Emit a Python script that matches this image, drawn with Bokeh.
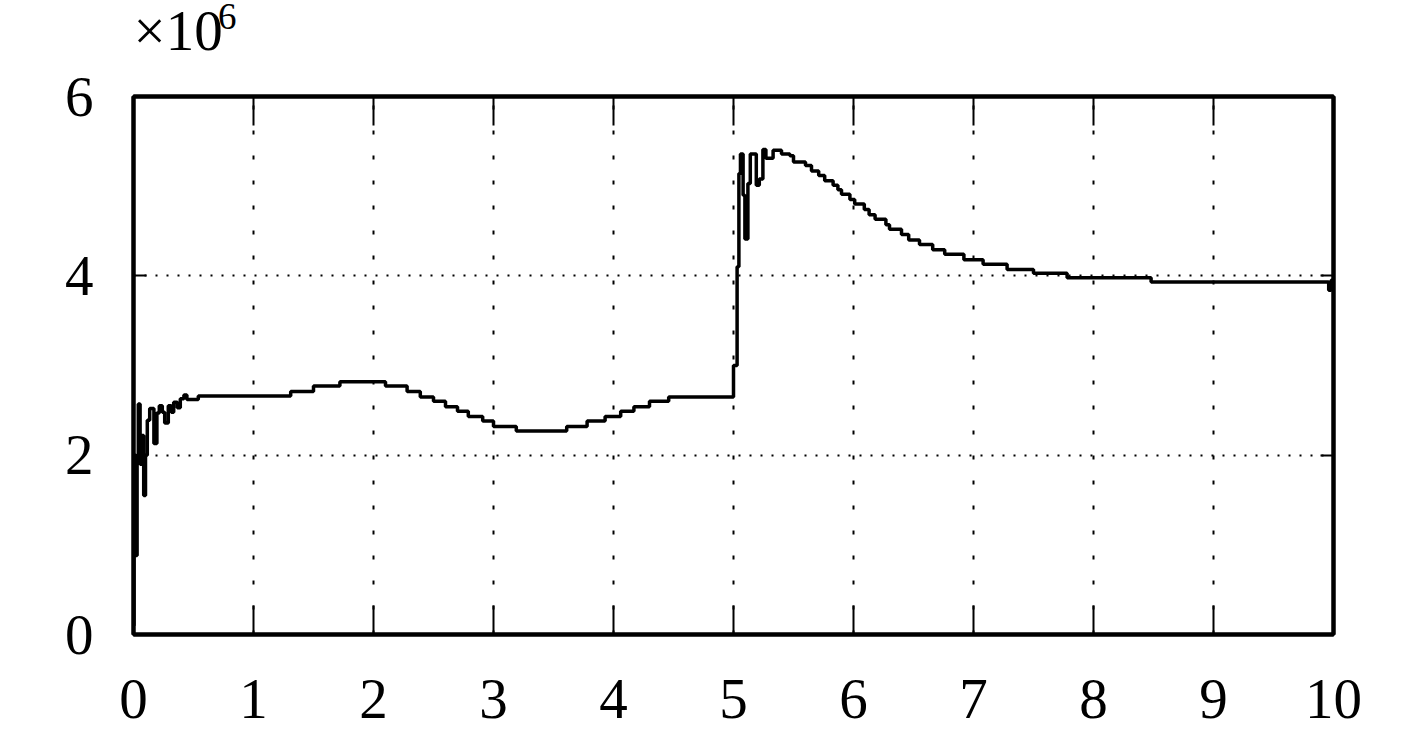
from bokeh.plotting import figure
from bokeh.layouts import column
from bokeh.models import Range1d, LinearAxis, FixedTicker, CustomLabelingPolicy
from bokeh.core.properties import value
from bokeh.embed import file_html
from bokeh.resources import INLINE

# ---- data (values in units of 10^6) ----
time_s = [
    0.000, 0.004, 0.020, 0.030, 0.040, 0.055, 0.070, 0.085, 0.100, 0.115,
    0.135, 0.170, 0.195, 0.215, 0.240, 0.260, 0.290, 0.315, 0.335, 0.365,
    0.390, 0.420, 0.445, 0.540, 1.310, 1.500, 1.720, 2.100, 2.280, 2.390,
    2.500, 2.600, 2.700, 2.790, 2.910, 3.000, 3.190, 3.610, 3.780, 3.930,
    4.060, 4.170, 4.300, 4.460, 5.000, 5.030, 5.045, 5.058, 5.080, 5.095,
    5.120, 5.140, 5.190, 5.215, 5.245, 5.270, 5.330, 5.400, 5.470, 5.500,
    5.600, 5.650, 5.710, 5.760, 5.830, 5.870, 5.900, 5.970, 6.010, 6.090,
    6.130, 6.180, 6.270, 6.300, 6.400, 6.460, 6.550, 6.660, 6.760, 6.920,
    7.080, 7.280, 7.500, 7.780, 8.480, 9.960, 9.980, 10.000,
]
value_e6 = [
    0.10, 2.00, 0.88, 2.00, 2.57, 1.90, 2.22, 1.55, 2.00, 2.39,
    2.52, 2.13, 2.47, 2.55, 2.48, 2.36, 2.55, 2.48, 2.59, 2.53,
    2.63, 2.67, 2.62, 2.66, 2.71, 2.77, 2.82, 2.77, 2.71, 2.65,
    2.60, 2.54, 2.49, 2.43, 2.38, 2.32, 2.27, 2.32, 2.38, 2.43,
    2.49, 2.54, 2.60, 2.65, 3.00, 4.10, 5.14, 5.36, 4.90, 4.41,
    5.03, 5.36, 5.01, 5.08, 5.41, 5.31, 5.40, 5.36, 5.34, 5.27,
    5.23, 5.17, 5.12, 5.06, 5.01, 4.96, 4.91, 4.85, 4.80, 4.74,
    4.68, 4.63, 4.57, 4.52, 4.46, 4.40, 4.35, 4.29, 4.24, 4.18,
    4.13, 4.07, 4.03, 3.98, 3.93, 3.84, 3.95, 3.95,
]
x_ticks = [0, 1, 2, 3, 4, 5, 6, 7, 8, 9, 10]
y_ticks = [0, 2, 4, 6]
x_grid = [1, 2, 3, 4, 5, 6, 7, 8, 9]
y_grid = [2, 4]
multiplier_text = "×10"
exponent_text = "6"

FONT = "Liberation Serif"
W, HEAD_H, H = 1417, 66, 732

# ---- header strip holding the ×10^6 scale factor ----
# its frame is aligned with the main frame by the column layout, so it
# shares the main x scale; y is in pixels measured down from the top
head = figure(
    width=W, height=HEAD_H, title=None,
    x_range=Range1d(0, 10), y_range=Range1d(HEAD_H, 0),
    x_axis_type=None, y_axis_type=None,
    output_backend="svg", toolbar_location=None,
    min_border=0, min_border_left=133, min_border_right=84,
    min_border_top=0, min_border_bottom=0,
    background_fill_color="white", border_fill_color="white",
    outline_line_color=None,
)
head.grid.visible = False
head.text(x=[0.0], y=[30], text=[multiplier_text], text_font=value(FONT),
          text_font_size="57px", text_color="black",
          text_baseline="alphabetic", text_align="left")
head.text(x=[0.705], y=[16], text=[exponent_text], text_font=value(FONT),
          text_font_size="37px", text_color="black",
          text_baseline="alphabetic", text_align="left")

# ---- main chart ----
p = figure(
    width=W, height=H - HEAD_H,
    x_range=Range1d(0, 10), y_range=Range1d(0, 6),
    output_backend="svg", toolbar_location=None,
    min_border_left=133, min_border_right=84,
    min_border_top=96 - HEAD_H, min_border_bottom=98,
    background_fill_color="white", border_fill_color="white",
)
p.outline_line_color = "black"
p.outline_line_width = 4

# main axes
for ax, ticks, tin in ((p.xaxis[0], x_ticks, 29), (p.yaxis[0], y_ticks, 13)):
    ax.ticker = FixedTicker(ticks=ticks)
    ax.axis_line_color = "black"
    ax.axis_line_width = 4
    ax.major_tick_line_color = "black"
    ax.major_tick_line_width = 2
    ax.major_tick_in = tin
    ax.major_tick_out = 0
    ax.minor_tick_line_color = None
    ax.major_label_text_font = FONT
    ax.major_label_text_font_size = "57px"
    ax.major_label_text_color = "black"
p.xaxis.major_label_standoff = 45
p.yaxis.major_label_standoff = 40

# mirrored axes (ticks only, labels filtered out)
hide_all = CustomLabelingPolicy(code="for (const i of indices) { indices.unset(i) } return indices")
top = LinearAxis(ticker=FixedTicker(ticks=x_ticks), major_label_policy=hide_all)
right = LinearAxis(ticker=FixedTicker(ticks=y_ticks), major_label_policy=hide_all)
for ax, tin in ((top, 29), (right, 13)):
    ax.axis_line_color = "black"
    ax.axis_line_width = 4
    ax.major_tick_line_color = "black"
    ax.major_tick_line_width = 2
    ax.major_tick_in = tin
    ax.major_tick_out = 0
    ax.minor_tick_line_color = None
    ax.major_label_standoff = 0
    ax.major_label_text_font_size = "1px"
p.add_layout(top, "above")
p.add_layout(right, "right")

# grids
p.xgrid.ticker = FixedTicker(ticks=x_grid)
p.xgrid.grid_line_color = "black"
p.xgrid.grid_line_width = 2
p.xgrid.grid_line_dash = "4 21"
p.ygrid.ticker = FixedTicker(ticks=y_grid)
p.ygrid.grid_line_color = "black"
p.ygrid.grid_line_width = 2
p.ygrid.grid_line_dash = "2 9"

# signal
p.step(time_s, value_e6, mode="after", line_color="black", line_width=3.5)

layout = column(head, p, spacing=0)
open("out.html", "w", encoding="utf-8").write(file_html(layout, INLINE))
